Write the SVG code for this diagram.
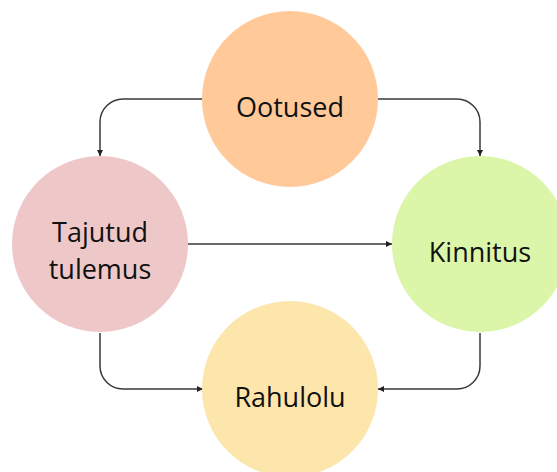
<svg xmlns="http://www.w3.org/2000/svg" width="557" height="472" viewBox="0 0 557 472">
<defs>
<style>
.lbl{font-family:"Open Sans","Liberation Sans",sans-serif;font-size:27px;fill:#111;text-anchor:middle}
.conn{fill:none;stroke:#3a3a3a;stroke-width:1.5}
</style>
<marker id="arr" viewBox="0 0 10 10" refX="10" refY="5" markerWidth="6" markerHeight="6" markerUnits="userSpaceOnUse" orient="auto">
<path d="M0,0 L10,5 L0,10 z" fill="#222"/>
</marker>
</defs>
<rect width="557" height="472" fill="#fff"/>
<g id="connectors">
<path class="conn" marker-end="url(#arr)" d="M203,99 H123 A23,23 0 0 0 100,122 V156"/>
<path class="conn" marker-end="url(#arr)" d="M378,99 H457 A23,23 0 0 1 480,122 V156"/>
<path class="conn" marker-end="url(#arr)" d="M188,244 H392"/>
<path class="conn" marker-end="url(#arr)" d="M100,333 V366 A23,23 0 0 0 123,389 H203"/>
<path class="conn" marker-end="url(#arr)" d="M480,333 V366 A23,23 0 0 1 457,389 H378"/>
</g>
<g id="ootused">
<circle cx="290" cy="99" r="88" fill="#FFC999"/>
<text class="lbl" x="290" y="117">Ootused</text>
</g>
<g id="tajutud">
<circle cx="100" cy="244" r="88" fill="#EEC8C9"/>
<text class="lbl" x="100" y="242">Tajutud</text>
<text class="lbl" x="100" y="279">tulemus</text>
</g>
<g id="kinnitus">
<circle cx="480" cy="244" r="88" fill="#DBF5A9"/>
<text class="lbl" x="480" y="262">Kinnitus</text>
</g>
<g id="rahulolu">
<circle cx="290" cy="389" r="88" fill="#FDE6AC"/>
<text class="lbl" x="290" y="407">Rahulolu</text>
</g>
</svg>
